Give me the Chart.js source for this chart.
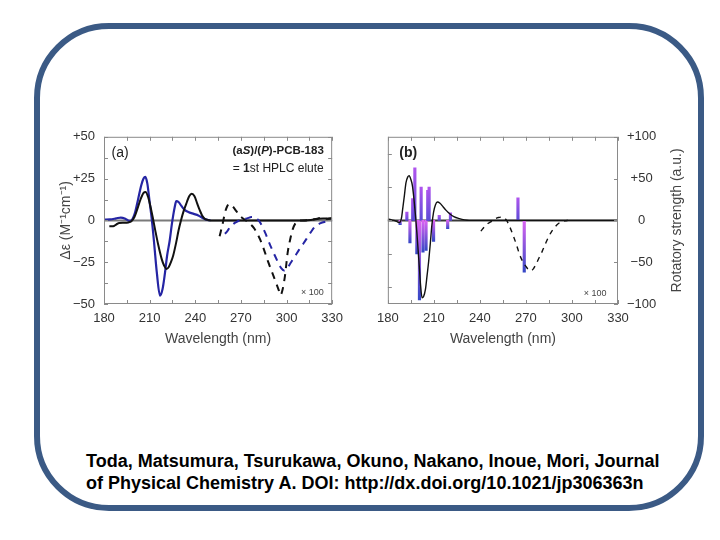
<!DOCTYPE html>
<html lang="en">
<head>
<meta charset="UTF-8">
<title>PCB-183 CD spectra</title>
<script src="https://cdn.jsdelivr.net/npm/chart.js"></script>
<style>
    body { margin: 0; background: #fff; font-family: "Liberation Sans", Arial, sans-serif; }
    #stage { position: relative; width: 720px; height: 540px; overflow: hidden; }
    #frame {
        position: absolute; left: 34px; top: 23px; width: 670px; height: 488px;
        box-sizing: border-box; border: 6px solid #3b5a85; border-radius: 75px;
    }
    #boxA { position: absolute; left: 50px; top: 120px; width: 300px; height: 240px; }
    #boxB { position: absolute; left: 370px; top: 120px; width: 330px; height: 240px; }
    #cite {
        position: absolute; left: 86px; top: 450px; color: #000;
        font-weight: bold; font-size: 18px; line-height: 22px; white-space: nowrap;
    }
</style>
</head>
<body>
<div id="stage">
    <div id="frame"></div>
    <div id="boxA"><canvas id="chartA" width="300" height="240"></canvas></div>
    <div id="boxB"><canvas id="chartB" width="330" height="240"></canvas></div>
    <div id="cite">Toda, Matsumura, Tsurukawa, Okuno, Nakano, Inoue, Mori, Journal<br>of Physical Chemistry A. DOI: http://dx.doi.org/10.1021/jp306363n</div>
</div>

<script>
    // ---- panel (a): measured CD, Δε (M-1 cm-1) ----
    const wlBlue = [180, 184, 188, 191, 194, 196.5, 198.5, 200.5, 202.5, 204.5, 206, 207.2, 208.5, 210, 211.5, 213, 214.7, 216.8, 218.5, 220, 221.5, 223.2, 224.5, 225.5, 226.5, 227.5, 229, 231, 233, 236, 239, 242, 245.5, 248, 250];
    const deBlue = [0.5, 0.6, 1.2, 1.7, 1.0, -0.3, 0.5, 5, 13, 21, 25, 26, 22, 11, 0, -14, -31, -45, -41, -32, -21, -12, -3, 3, 8, 11.5, 11, 8.5, 6.3, 4.8, 3.9, 3, 1.2, 0.3, 0];

    const wlBlack = [183.5, 186, 188, 190, 193, 196, 198, 200, 202, 204, 206, 207.3, 209, 210.5, 212, 213.6, 215.5, 217.9, 219.5, 221, 222.5, 224, 225.5, 227.5, 229, 230.6, 232.5, 234.5, 236, 237.7, 239.5, 241.3, 243, 244.5, 246, 248, 250, 270, 290, 310, 316, 320, 324, 327, 330];
    const deBlack = [-3.5, -3.5, -2.5, -1.5, -1.4, -1.2, -0.5, 2, 7, 12.5, 16.5, 17, 14, 8.5, 2, -5.5, -14, -23, -27, -29, -28, -25, -21, -13, -6, 0, 6, 11, 14.5, 16, 14.5, 10, 6, 3, 1.2, 0.3, 0, 0, 0, 0, 0.3, 0.8, 1.2, 1, 1.5];

    // x100 expanded traces
    const wlBlackX100 = [256, 258, 259.5, 261, 262.5, 264.5, 267, 269, 271, 274, 276.5, 278.5, 280.5, 282.7, 285, 288, 290.5, 293.4, 295, 296, 297.5, 299, 300.8, 302.5, 304, 306, 308, 312, 316, 319, 322.5, 326, 330];
    const deBlackX100 = [-9.5, -2, 4.5, 8.5, 9.8, 8.5, 5.5, 3, 1.4, -0.5, -2.5, -4.5, -7.5, -11.5, -17, -25, -31, -38, -42, -44.7, -41, -33, -19, -11, -5.5, -1.5, 0, 0, 0.3, 0.8, 1.4, 1, 1];

    const wlBlueX100 = [259.5, 261, 262.5, 264, 266, 268, 271, 274, 277, 278.5, 280, 281.7, 284, 286, 288, 290.3, 292.3, 294.4, 296.5, 298.5, 300.5, 303, 305.5, 308.3, 311, 313.6, 316, 318.9, 322, 326.4, 330];
    const deBlueX100 = [-8, -6.5, -4.5, -3, -1.5, -0.5, 0.5, 1.2, 2, 2, 1.2, 0, -3.5, -7.5, -12, -17, -21, -25, -28.5, -30, -28.5, -25, -21.5, -17.5, -14, -10.4, -7, -3.5, -1.8, -0.6, 0];

    // ---- panel (b): calculated spectrum + rotatory strengths ----
    const wlCalc = [180, 182, 184, 186, 187.6, 188.8, 189.7, 190.8, 191.8, 193, 193.9, 195, 196, 197.1, 198.2, 199, 199.8, 200.6, 201.3, 202.3, 203.3, 204.5, 205.5, 206.6, 207.7, 208.7, 209.8, 211, 212.3, 214, 216.1, 218, 220.3, 223, 226.6, 230, 233, 240, 270, 300, 330];
    const rsCalc = [1.5, 1, 0, -1.5, -2.6, 2, 14, 30, 45, 52, 53.5, 49, 41.6, 24, 2, -17, -37, -58, -77, -92.5, -91, -82.6, -67, -49, -27, -5.7, 10, 18.5, 22, 20.5, 16, 12, 8, 4.5, 2.1, 0.6, 0, 0, 0, 0, 0];

    const wlCalcX100 = [240.6, 243, 245, 247, 250, 252, 254.2, 256, 257.4, 259.5, 261.6, 263.8, 265.9, 268, 270, 271.7, 273.2, 274.8, 276.4, 278.5, 280.6, 282.7, 284.8, 287, 289, 291, 293.3, 295.5, 297.5];
    const rsCalcX100 = [-12.8, -7.5, -4, -1.8, 2, 3.5, 4, 2.5, 0, -8, -17.5, -29, -41, -49.5, -55, -59, -60, -58, -53, -45, -37, -28, -19.5, -12.5, -7.7, -4, -1.8, -0.5, 0];

    const stickWl = [188.0, 192.4, 194.4, 196.2, 197.6, 198.9, 200.6, 201.7, 202.9, 204.9, 206.0, 206.9, 209.8, 213.5, 219.0, 220.8, 264.8, 268.9];
    const stickRs = [-5, 10, -27, 26, 63, -40, -95, 40, -38, -36, 36, 40, -25, 6, -10, 9, 27, -62];

    // tick values
    const xTicks = [180, 195, 210, 225, 240, 255, 270, 285, 300, 315, 330];
    const deTicks = [-50, -37.5, -25, -12.5, 0, 12.5, 25, 37.5, 50];
    const rsTicks = [-100, -50, 0, 50, 100];
    const leftBTicks = [-100, -50, 0, 50, 100];

    const BLUE = '#2525a4';
    const BLACK = '#111111';
    const FONT = '"Liberation Sans", Arial, sans-serif';

    function pts(xs, ys) {
        return xs.map((x, i) => ({ x: x, y: ys[i] }));
    }

    function signed(v) {
        if (v > 0) return '+' + v;
        if (v < 0) return '\u2212' + Math.abs(v);
        return '0';
    }

    // frame box, inward ticks, zero line and in-plot labels
    const frameTicks = {
        id: 'frameTicks',
        beforeDatasetsDraw(chart, args, opts) {
            const ctx = chart.ctx, a = chart.chartArea;
            const y0 = chart.scales[opts.rightScale].getPixelForValue(0);
            ctx.save();
            ctx.strokeStyle = opts.zeroColor;
            ctx.lineWidth = 2;
            ctx.beginPath();
            ctx.moveTo(a.left, y0);
            ctx.lineTo(a.right, y0);
            ctx.stroke();
            ctx.restore();
        },
        afterDatasetsDraw(chart, args, opts) {
            const ctx = chart.ctx, a = chart.chartArea;
            ctx.save();
            ctx.strokeStyle = '#8a8a8a';
            ctx.lineWidth = 1;
            ctx.strokeRect(a.left + 0.5, a.top + 0.5, a.width - 1, a.height - 1);
            ctx.beginPath();
            const sx = chart.scales.x;
            opts.xTicks.forEach(v => {
                const px = Math.round(sx.getPixelForValue(v)) + 0.5;
                ctx.moveTo(px, a.bottom); ctx.lineTo(px, a.bottom - 4);
                ctx.moveTo(px, a.top); ctx.lineTo(px, a.top + 4);
            });
            const sl = chart.scales[opts.leftScale];
            opts.leftTicks.forEach(v => {
                const py = Math.round(sl.getPixelForValue(v)) + 0.5;
                ctx.moveTo(a.left, py); ctx.lineTo(a.left + 4, py);
            });
            const sr = chart.scales[opts.rightScale];
            opts.rightTicks.forEach(v => {
                const py = Math.round(sr.getPixelForValue(v)) + 0.5;
                ctx.moveTo(a.right, py); ctx.lineTo(a.right - 4, py);
            });
            ctx.stroke();

            const sy = chart.scales[opts.rightScale];
            ctx.textBaseline = 'middle';
            (opts.labels || []).forEach(l => {
                let x = sx.getPixelForValue(l.x);
                const y = sy.getPixelForValue(l.y);
                let total = 0;
                l.runs.forEach(r => { ctx.font = r.font; total += ctx.measureText(r.t).width; });
                if (l.align === 'right') x -= total;
                l.runs.forEach(r => {
                    ctx.font = r.font;
                    ctx.fillStyle = r.color || '#222';
                    ctx.textAlign = 'left';
                    ctx.fillText(r.t, x, y);
                    x += ctx.measureText(r.t).width;
                });
            });

            // right-hand axis title, reading bottom to top
            if (opts.sideTitle) {
                ctx.translate(a.right + opts.sideTitle.offset, (a.top + a.bottom) / 2);
                ctx.rotate(-Math.PI / 2);
                ctx.font = '14px ' + FONT;
                ctx.fillStyle = '#444';
                ctx.textAlign = 'center';
                ctx.fillText(opts.sideTitle.text, 0, 0);
            }
            ctx.restore();
        }
    };

    const tickFont = { family: FONT, size: 13 };
    const titleFont = { family: FONT, size: 14 };

    // ---------- chart (a) ----------
    new Chart(document.getElementById('chartA'), {
        type: 'line',
        data: {
            datasets: [
                { data: pts(wlBlueX100, deBlueX100), borderColor: BLUE, borderWidth: 2, borderDash: [7, 6] },
                { data: pts(wlBlackX100, deBlackX100), borderColor: BLACK, borderWidth: 2, borderDash: [7, 6] },
                { data: pts(wlBlack, deBlack), borderColor: BLACK, borderWidth: 2 },
                { data: pts(wlBlue, deBlue), borderColor: BLUE, borderWidth: 2.2 }
            ]
        },
        options: {
            responsive: false,
            animation: false,
            events: [],
            layout: { padding: { left: 0, right: 11, top: 14, bottom: 0 } },
            elements: {
                point: { radius: 0 },
                line: { cubicInterpolationMode: 'monotone', fill: false }
            },
            plugins: {
                legend: { display: false },
                tooltip: { enabled: false },
                frameTicks: {
                    zeroColor: '#7a7a7a',
                    xTicks: xTicks,
                    leftScale: 'y', leftTicks: deTicks,
                    rightScale: 'y', rightTicks: deTicks,
                    labels: [
                        { x: 185, y: 40.5, align: 'left', runs: [{ t: '(a)', font: '14px ' + FONT }] },
                        { x: 324.5, y: 41.8, align: 'right', runs: [
                            { t: '(a', font: 'bold 11.5px ' + FONT },
                            { t: 'S', font: 'italic bold 11.5px ' + FONT },
                            { t: ')/(', font: 'bold 11.5px ' + FONT },
                            { t: 'P', font: 'italic bold 11.5px ' + FONT },
                            { t: ')-PCB-183', font: 'bold 11.5px ' + FONT }
                        ] },
                        { x: 324.5, y: 31, align: 'right', runs: [
                            { t: '= ', font: '12px ' + FONT },
                            { t: '1', font: 'bold 12px ' + FONT },
                            { t: 'st HPLC elute', font: '12px ' + FONT }
                        ] },
                        { x: 324.5, y: -43, align: 'right', runs: [{ t: '\u00d7 100', font: '9px ' + FONT, color: '#444' }] }
                    ]
                }
            },
            scales: {
                x: {
                    type: 'linear', min: 180, max: 330, offset: false,
                    grid: { display: false, drawTicks: false },
                    border: { display: false },
                    ticks: { stepSize: 30, font: tickFont, color: '#333', padding: 7, maxRotation: 0 },
                    title: { display: true, text: 'Wavelength (nm)', font: titleFont, color: '#444', padding: { top: 4, bottom: 12 } },
                    afterFit: s => { s.height = 56; }
                },
                y: {
                    min: -50, max: 50,
                    grid: { display: false, drawTicks: false },
                    border: { display: false },
                    ticks: { stepSize: 25, font: tickFont, color: '#333', padding: 9, callback: v => signed(v) },
                    title: { display: true, text: '\u0394\u03b5 (M\u207b\u00b9cm\u207b\u00b9)', font: titleFont, color: '#444', padding: { top: 8, bottom: 4 } },
                    afterFit: s => { s.width = 54; }
                }
            }
        },
        plugins: [frameTicks]
    });

    // ---------- chart (b) ----------
    function stickColor(ctx) {
        const chart = ctx.chart;
        if (!chart.chartArea || !ctx.raw) return '#8a4ee0';
        const sc = chart.scales.y;
        const v = ctx.raw.y;
        const p0 = sc.getPixelForValue(0);
        const p1 = sc.getPixelForValue(v);
        if (p0 === p1) return '#8a4ee0';
        const g = chart.ctx.createLinearGradient(0, p0, 0, p1);
        if (v >= 0) {
            g.addColorStop(0, '#5b4bd6');
            g.addColorStop(1, '#b055ee');
        } else {
            g.addColorStop(0, '#dc64f2');
            g.addColorStop(1, '#3547c6');
        }
        return g;
    }

    new Chart(document.getElementById('chartB'), {
        type: 'line',
        data: {
            datasets: [
                { type: 'bar', data: pts(stickWl, stickRs), backgroundColor: stickColor, barThickness: 2.5, grouped: false, order: 2, yAxisID: 'y' },
                { data: pts(wlCalcX100, rsCalcX100), borderColor: BLACK, borderWidth: 1.4, borderDash: [5, 5], order: 1, yAxisID: 'y' },
                { data: pts(wlCalc, rsCalc), borderColor: BLACK, borderWidth: 1.4, order: 1, yAxisID: 'y' }
            ]
        },
        options: {
            responsive: false,
            animation: false,
            events: [],
            layout: { padding: { left: 11, right: 0, top: 14, bottom: 0 } },
            elements: {
                point: { radius: 0 },
                line: { cubicInterpolationMode: 'monotone', fill: false }
            },
            plugins: {
                legend: { display: false },
                tooltip: { enabled: false },
                frameTicks: {
                    zeroColor: '#3a3a3a',
                    xTicks: xTicks,
                    leftScale: 'yL', leftTicks: leftBTicks,
                    rightScale: 'y', rightTicks: rsTicks,
                    sideTitle: { text: 'Rotatory strength (a.u.)', offset: 59 },
                    labels: [
                        { x: 187.5, y: 81, align: 'left', runs: [{ t: '(b)', font: 'bold 14px ' + FONT }] },
                        { x: 322.5, y: -87, align: 'right', runs: [{ t: '\u00d7 100', font: '9px ' + FONT, color: '#444' }] }
                    ]
                }
            },
            scales: {
                x: {
                    type: 'linear', min: 180, max: 330, offset: false,
                    grid: { display: false, drawTicks: false },
                    border: { display: false },
                    ticks: { stepSize: 30, font: tickFont, color: '#333', padding: 7, maxRotation: 0 },
                    title: { display: true, text: 'Wavelength (nm)', font: titleFont, color: '#444', padding: { top: 4, bottom: 12 } },
                    afterFit: s => { s.height = 56; }
                },
                yL: {
                    position: 'left', min: -125, max: 125,
                    grid: { display: false, drawTicks: false },
                    border: { display: false },
                    ticks: { display: false },
                    afterFit: s => { s.width = 0; }
                },
                y: {
                    position: 'right', min: -100, max: 100,
                    grid: { display: false, drawTicks: false },
                    border: { display: false },
                    ticks: { stepSize: 50, font: tickFont, color: '#333', padding: 9, crossAlign: 'center', callback: v => signed(v) },
                    title: { display: false },
                    afterFit: s => { s.width = 82; }
                }
            }
        },
        plugins: [frameTicks]
    });
</script>
</body>
</html>
